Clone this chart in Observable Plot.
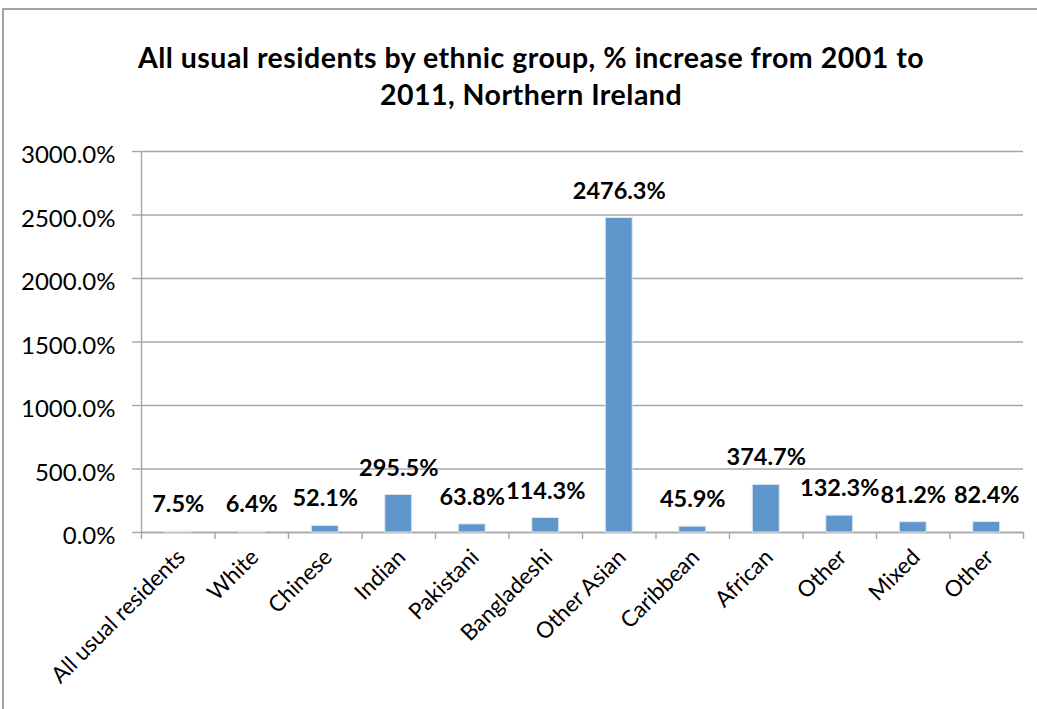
<!DOCTYPE html>
<html>
<head>
<meta charset="utf-8">
<script src="https://cdn.jsdelivr.net/npm/d3@7"></script>
<script src="https://cdn.jsdelivr.net/npm/@observablehq/plot@0.6"></script>
<style>
  html, body { margin: 0; padding: 0; background: #fff; overflow: hidden; width: 1037px; height: 709px; }
  #frame { position: absolute; left: 2px; top: 8px; width: 1100px; height: 760px; border-left: 2px solid #a3a3a3; border-top: 2px solid #a3a3a3; }
  #title { position: absolute; left: 0; top: 0; width: 1062px; padding-top: 39px; text-align: center;
           font-family: Lato, sans-serif; font-weight: bold; font-size: 28.5px; letter-spacing: 0.5px; line-height: 37px; color: #000; }
  #chart { position: absolute; left: 0; top: 140px; }
</style>
</head>
<body>
<div id="frame"></div>
<div id="title">All usual residents by ethnic group, % increase from 2001 to<br>2011, Northern Ireland</div>
<div id="chart"></div>
<script>
const categories = ["All usual residents", "White", "Chinese", "Indian", "Pakistani", "Bangladeshi",
                    "Other Asian", "Caribbean", "African", "Other", "Mixed", "Other"];
const values = [7.5, 6.4, 52.1, 295.5, 63.8, 114.3, 2476.3, 45.9, 374.7, 132.3, 81.2, 82.4];
const yTicks = [0, 500, 1000, 1500, 2000, 2500, 3000];

const data = categories.map((c, i) => ({i, category: c, value: values[i]}));
const boundaries = d3.range(categories.length + 1);

const gridColor = "#a6a6a6";
const barColor = "#5f96cb";

const chart = Plot.plot({
  width: 1037,
  height: 569,
  marginTop: 11,
  marginBottom: 177,
  marginLeft: 141,
  marginRight: 14,
  x: {domain: [0, categories.length], axis: null},
  y: {domain: [0, 3000], axis: null, label: null},
  style: {fontFamily: "Lato, sans-serif", color: "#000", background: "transparent", overflow: "visible"},
  marks: [
    Plot.gridY(yTicks, {stroke: gridColor, strokeOpacity: 1, strokeWidth: 1.4}),
    Plot.axisY(yTicks, {tickSize: 9, fill: "none", stroke: gridColor, strokeWidth: 1.4, label: null}),
    Plot.axisY(yTicks, {tickSize: 0, tickPadding: 26, dy: 4, fill: "#000", fontSize: 24,
                        tickFormat: d => d.toFixed(1) + "%", label: null}),
    Plot.axisX(boundaries, {tickSize: 7, fill: "none", stroke: gridColor, strokeWidth: 1.4, label: null}),
    Plot.ruleX([0], {stroke: gridColor, strokeWidth: 1.4}),
    Plot.ruleY([0], {stroke: gridColor, strokeWidth: 1.4}),
    Plot.rectY(data, {x1: "i", x2: d => d.i + 1, y: "value", insetLeft: 23.3, insetRight: 23.3,
                      fill: barColor, stroke: "#dfe6ee", strokeWidth: 1}),
    Plot.text(data, {x: d => d.i + 0.5, y: "value", text: d => d.value.toFixed(1) + "%",
                     dy: -27, fontSize: 23.5, fontWeight: "bold", fill: "#000"}),
    Plot.text(data, {x: d => d.i + 0.5, y: () => 0, text: "category", rotate: -45, textAnchor: "end",
                     dx: 3, dy: 21, fontSize: 22.5, fill: "#000"})
  ]
});
document.getElementById("chart").appendChild(chart);
</script>
</body>
</html>
